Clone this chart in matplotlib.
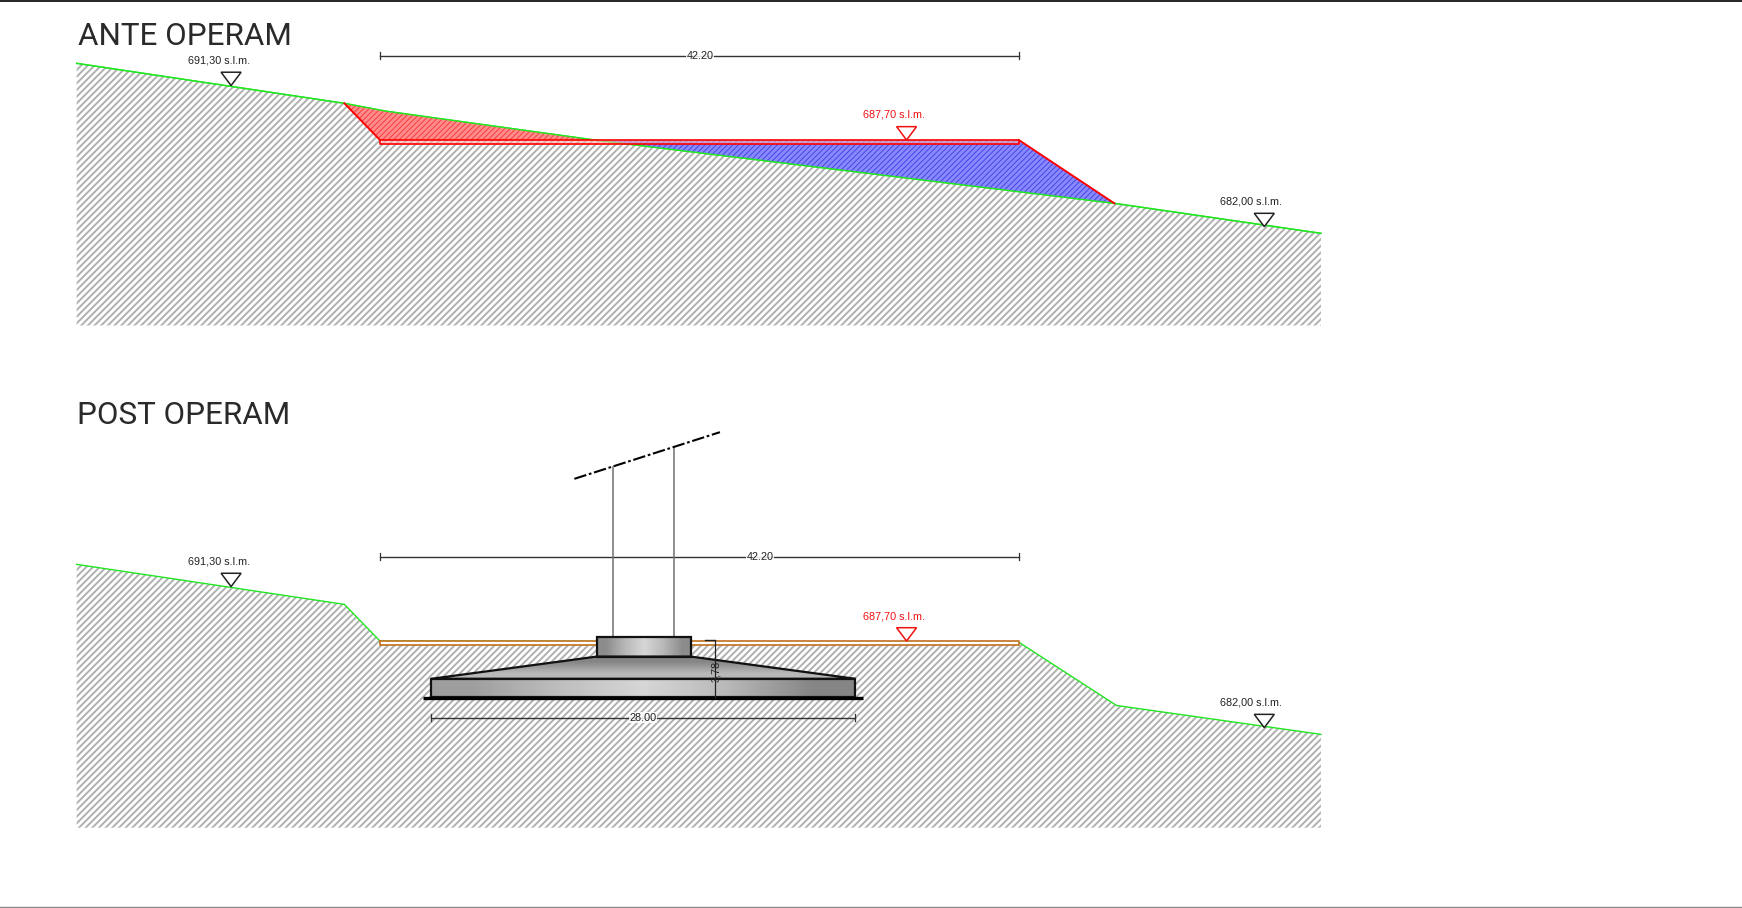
import matplotlib
matplotlib.use('Agg')
import matplotlib.pyplot as plt
from matplotlib.patches import Polygon

# all coordinates are in sheet units, 1568 wide
SHEET_W = 1568
SHEET_H = 817.3

titles = ['ANTE OPERAM', 'POST OPERAM']
level_labels = ['691,30 s.l.m.', '687,70 s.l.m.', '682,00 s.l.m.']
span_label = '42.20'
width_label = '28.00'
height_label = '3,78'

# section 1, natural ground
ante_ground_x = [69, 310, 347, 535, 1003, 1189]
ante_ground_y = [57, 93, 100, 126, 183, 210]
ante_bottom = 293
ante_cut_x = [310, 342, 535, 347]
ante_cut_y = [93, 126, 126, 100]
ante_fill_x = [535, 917, 1003]
ante_fill_y = [126, 126, 183]
ante_strip_x = [342, 917]
ante_strip_y = [126, 130]

# section 2, finished ground
post_ground_x = [69, 310, 342, 917, 1005, 1189]
post_ground_y = [508, 544, 577, 578, 635, 661]
post_bottom = 745
post_strip_x = [342, 917]
post_strip_y = [577, 581]

# level marks: tip x, tip y, label x, label y
ante_marks = [(208, 77, 197, 54.5), (816, 126, 805, 103.5), (1138, 204, 1126, 181.5)]
post_marks = [(208, 528, 197, 505.5), (816, 577, 805, 554.5), (1138, 655, 1126, 632.5)]
mark_colors = ['#222222', '#f01010', '#222222']

# foundation
slab_x = [388, 770]
slab_y = [611, 627]
taper_x = [388, 537, 622, 770]
taper_y = [611, 591, 591, 611]
collar_x = [537, 622]
collar_y = [573, 591]
base_x = [381, 777]
base_y = 628
pole_x = [552, 607]
pole_top = [420, 402]
panel_x = [517, 648]
panel_y = [431, 389]
slab_shade = [[0.62, 0.74, 0.84, 0.72, 0.52]]
taper_shade = [[0.52], [0.72]]
collar_shade = [[0.55, 0.72, 0.84, 0.72, 0.55]]


def draw_ground(ax, xs, ys, bottom):
    plt.rcParams['hatch.linewidth'] = 1.4
    points = list(zip(xs, ys)) + [(xs[-1], bottom), (xs[0], bottom)]
    ax.add_patch(Polygon(points, closed=True, facecolor='white',
                         edgecolor='#b0b0b0', hatch='/////', linewidth=0))
    ax.plot(xs, ys, color='#22e622', linewidth=1.0)


def draw_mark(ax, tip_x, tip_y, label_x, label_y, text, color):
    ax.add_patch(Polygon([(tip_x - 9, tip_y - 12), (tip_x + 9, tip_y - 12), (tip_x, tip_y)],
                         closed=True, facecolor='white', edgecolor=color, linewidth=1.1, zorder=5))
    ax.text(label_x, label_y, text, color=color, ha='center', va='center',
            fontsize=7.8, family='Liberation Sans', zorder=6)


def draw_dim(ax, x0, x1, y, text, text_x):
    ax.plot([x0, x1], [y, y], color='#333333', linewidth=1.0)
    for x in (x0, x1):
        ax.plot([x, x], [y - 3, y + 3], color='#333333', linewidth=0.9)
    ax.text(text_x, y, text, ha='center', va='center', fontsize=7.8, family='Liberation Sans',
            color='#222222', zorder=6,
            bbox=dict(facecolor='white', edgecolor='none', pad=0.3, alpha=0.85))


def shaded(ax, shade, xs, ys, outline):
    clip = Polygon(outline, closed=True, transform=ax.transData, facecolor='none')
    ax.add_patch(clip)
    img = ax.imshow(shade, cmap='gray', vmin=0, vmax=1, interpolation='bilinear', aspect='auto',
                    extent=[xs[0], xs[1], ys[1], ys[0]], zorder=3)
    img.set_clip_path(clip)
    ax.add_patch(Polygon(outline, closed=True, facecolor='none', edgecolor='#111111',
                         linewidth=1.6, zorder=4))


fig = plt.figure(figsize=(17.42, 9.08), dpi=100)
ax = fig.add_axes([0, 0, 1, 1])

# ante operam
draw_ground(ax, ante_ground_x, ante_ground_y, ante_bottom)
plt.rcParams['hatch.linewidth'] = 0.6
ax.add_patch(Polygon(list(zip(ante_cut_x, ante_cut_y)), closed=True, facecolor='#ff8c8c',
                     edgecolor='#f83030', hatch='//////', linewidth=0, zorder=2))
ax.add_patch(Polygon(list(zip(ante_fill_x, ante_fill_y)), closed=True, facecolor='#8888ff',
                     edgecolor='#3c3ce0', hatch='//////', linewidth=0, zorder=2))
ax.plot(ante_ground_x, ante_ground_y, color='#22e622', linewidth=1.0, zorder=3)
ax.plot(ante_cut_x[:2], ante_cut_y[:2], color='red', linewidth=1.4, zorder=4)
ax.plot(ante_fill_x[1:], ante_fill_y[1:], color='red', linewidth=1.4, zorder=4)
ax.fill_between(ante_strip_x, ante_strip_y[0], ante_strip_y[1], facecolor='#ffb0b0',
                edgecolor='none', zorder=3, alpha=0.6)
ax.plot([ante_strip_x[0], ante_strip_x[1], ante_strip_x[1], ante_strip_x[0], ante_strip_x[0]],
        [ante_strip_y[0], ante_strip_y[0], ante_strip_y[1], ante_strip_y[1], ante_strip_y[0]],
        color='red', linewidth=1.2, zorder=4)
draw_dim(ax, 342, 917, 50, span_label, 630)
for (tx, ty, lx, ly), text, color in zip(ante_marks, level_labels, mark_colors):
    draw_mark(ax, tx, ty, lx, ly, text, color)

# post operam
draw_ground(ax, post_ground_x, post_ground_y, post_bottom)
ax.fill_between(post_strip_x, post_strip_y[0], post_strip_y[1], facecolor='white', edgecolor='none', zorder=2)
ax.plot([post_strip_x[0], post_strip_x[1], post_strip_x[1], post_strip_x[0], post_strip_x[0]],
        [post_strip_y[0], post_strip_y[0], post_strip_y[1], post_strip_y[1], post_strip_y[0]],
        color='#c0701e', linewidth=1.2, zorder=2)
draw_dim(ax, 342, 917, 501, span_label, 684)
for (tx, ty, lx, ly), text, color in zip(post_marks, level_labels, mark_colors):
    draw_mark(ax, tx, ty, lx, ly, text, color)

shaded(ax, slab_shade, slab_x, slab_y,
       [(slab_x[0], slab_y[0]), (slab_x[1], slab_y[0]), (slab_x[1], slab_y[1]), (slab_x[0], slab_y[1])])
shaded(ax, taper_shade, [taper_x[0], taper_x[-1]], [taper_y[1], taper_y[0]], list(zip(taper_x, taper_y)))
shaded(ax, collar_shade, collar_x, collar_y,
       [(collar_x[0], collar_y[0]), (collar_x[1], collar_y[0]), (collar_x[1], collar_y[1]), (collar_x[0], collar_y[1])])
ax.plot(base_x, [base_y, base_y], color='black', linewidth=2.4, zorder=5, solid_capstyle='butt')

for x, top in zip(pole_x, pole_top):
    ax.plot([x, x], [top, collar_y[0]], color='#707070', linewidth=1.1, zorder=2)
ax.plot(panel_x, panel_y, color='black', linewidth=1.5, linestyle=(0, (6, 1.3, 1.3, 1.3)), zorder=3)

draw_dim(ax, slab_x[0], slab_x[1], 646, width_label, 579)
ax.plot([644, 644], [577, base_y], color='#222222', linewidth=0.9, zorder=6)
ax.plot([635, 644], [576.5, 576.5], color='#222222', linewidth=1.0, zorder=6)
ax.text(645, 604, height_label, rotation=90, ha='center', va='center', fontsize=7.8,
        family='Liberation Sans', color='#222222', zorder=7)

# titles
ax.text(70, 33, titles[0], fontsize=22.6, family='Roboto', ha='left', va='center', color='#2a2a2a')
ax.text(69, 374, titles[1], fontsize=22.6, family='Roboto', ha='left', va='center', color='#2a2a2a')

# sheet border
ax.plot([0, SHEET_W], [0.5, 0.5], color='black', linewidth=1.2)
ax.plot([0, SHEET_W], [816, 816], color='#888888', linewidth=1.0)

ax.set_xlim(0, SHEET_W)
ax.set_ylim(SHEET_H, 0)
ax.axis('off')

plt.savefig('out.png', dpi=100)
